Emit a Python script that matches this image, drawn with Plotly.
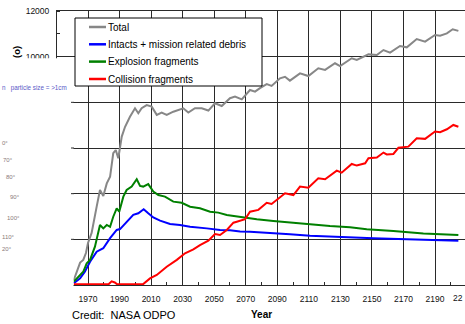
import plotly.graph_objects as go

# ---------------- data ----------------
series_names = ["Total", "Intacts + mission related debris",
                "Explosion fragments", "Collision fragments"]

years_total = [1961, 1965, 1967, 1968.7, 1970, 1972.3, 1975.5, 1977.6, 1979.7, 1981.9,
               1984, 1986, 1987.6, 1989.2, 1991.4, 1993.5, 1996.6, 1999.8, 2001.9, 2004,
               2007.2, 2010.4, 2013.6, 2016.7, 2019.9, 2024.1, 2030.4, 2033.6, 2037.8,
               2042.1, 2046.3, 2050.5, 2054.8, 2060, 2063.2, 2067.5, 2072.7, 2075.9, 2079,
               2083.3, 2086.4, 2091.7, 2094.9, 2098, 2104.4, 2109.7, 2116, 2120.3, 2126.6,
               2129.8, 2137.2, 2140.4, 2147.8, 2153.1, 2157.3, 2161.5, 2167.8, 2172.1,
               2178.4, 2183.7, 2190, 2193.2, 2197.5, 2201.2, 2204.8]
total = [220, 980, 1100, 1400, 1840, 2280, 3430, 4160, 3900, 4450,
         4740, 5770, 5910, 5550, 6500, 6930, 7370, 7740, 7520, 7740,
         7880, 7810, 7450, 7550, 7450, 7590, 7740, 7550, 7740,
         7740, 7640, 7960, 7840, 8180, 8250, 8130, 8540, 8470, 8620,
         8800, 8720, 9050, 9120, 8950, 9270, 9150, 9490, 9420, 9710,
         9590, 9930, 9860, 10100, 10070, 10290, 10180, 10470, 10410,
         10770, 10660, 10950, 10920, 11020, 11200, 11130]

years_intacts = [1961, 1965, 1968, 1971.3, 1975.5, 1979.7, 1984, 1988.2, 1990.3, 1994.5,
                 1998.7, 2001.9, 2005.3, 2008.2, 2011.4, 2015.7, 2022, 2028.3, 2034.7,
                 2045.3, 2053.7, 2060, 2066.4, 2072.7, 2085.4, 2098, 2110.8, 2123.4,
                 2136.1, 2150.9, 2172.1, 2193.2, 2204.8]
intacts = [75, 290, 580, 1020, 1460, 1610, 2050, 2410, 2450, 2770,
           3070, 3140, 3320, 3140, 2960, 2820, 2670, 2630, 2550,
           2480, 2410, 2400, 2340, 2330, 2260, 2220, 2160, 2120,
           2080, 2050, 2000, 1960, 1940]

years_explosion = [1961, 1963.9, 1967, 1969.2, 1971.3, 1974.4, 1977.6, 1979.7, 1981.9, 1984,
                   1986, 1988.2, 1989.8, 1992.4, 1994.5, 1997.7, 2000.9, 2003, 2005, 2008.2,
                   2011.4, 2014.6, 2018.8, 2024.1, 2029.4, 2034.7, 2041, 2047.4, 2052.6,
                   2058, 2066.4, 2077, 2087.5, 2098, 2110.8, 2123.4, 2136.1, 2146.7,
                   2163.6, 2182.6, 2204.8]
explosion = [150, 360, 580, 950, 1100, 1680, 2630, 2480, 2630, 2550,
             2990, 3360, 3210, 3870, 4160, 4310, 4630, 4340, 4310, 4420,
             4090, 3940, 3870, 3650, 3600, 3430, 3360, 3210, 3170,
             3070, 2980, 2880, 2800, 2730, 2660, 2580, 2530, 2440,
             2370, 2260, 2190]

years_collision = [1961, 1983, 1985, 1987, 1988.5, 2005, 2009.3, 2013.6, 2019.9, 2026.3,
                   2031.5, 2036.8, 2041, 2046.3, 2050.5, 2053.7, 2058, 2062.2, 2064.3,
                   2069.6, 2072.7, 2078, 2083.3, 2086.4, 2094.9, 2100.2, 2104.4, 2109.7,
                   2116, 2120.3, 2127.7, 2130.8, 2137.2, 2140.4, 2145.7, 2147.8, 2153.1,
                   2157.3, 2159.4, 2163.6, 2166.8, 2173.1, 2178.4, 2183.7, 2190, 2193.2,
                   2197.5, 2201.6, 2204.8]
collision = [30, 30, 160, 110, 30, 40, 290, 440, 800, 1100,
             1390, 1560, 1750, 1940, 2230, 2190, 2410, 2730, 2770,
             2880, 3210, 3290, 3600, 3550, 4020, 3940, 4310, 4260,
             4670, 4630, 5010, 4920, 5300, 5230, 5330, 5550, 5580,
             5800, 5720, 5740, 6010, 6060, 6430, 6400, 6720, 6690,
             6820, 7010, 6930]

x_tickvals = list(range(1970, 2200, 20))
cut_tick_label = "22"          # visible part of the 2210 label at the right edge
y_tickvals = [0, 2000, 4000, 6000, 8000, 10000, 12000]
y_ticktext = ["", "", "", "", "", "10000", "12000"]

credit_text = "Credit:\u00a0 NASA ODPO"
x_title = "Year"
y_title_fragment = "(o)"
side_note = "n\u00a0\u00a0 particle size = >1cm"
polar_labels = ["0°", "70°", "80°", "90°", "100°", "110°", "20°"]

# ---------------- layout helpers ----------------
W, H = 465, 324
L, R, T, B = 57, 0, 11, 39
PW, PH = W - L - R, H - T - B
X_RANGE = [1950.35, 2209.0]

def px(x):
    return (x - L) / PW

def py(y):
    return (H - B - y) / PH

colors = ["#878787", "#0000ff", "#008000", "#ff0000"]
FONT = "Liberation Sans, Arial, sans-serif"

fig = go.Figure()
for name, xs, ys, c in zip(series_names,
                           [years_total, years_intacts, years_explosion, years_collision],
                           [total, intacts, explosion, collision], colors):
    fig.add_trace(go.Scatter(x=xs, y=ys, mode="lines", name=name,
                             line=dict(color=c, width=2), showlegend=False))

grid = "#2a2a2a"
fig.update_layout(
    width=W, height=H,
    margin=dict(l=L, r=R, t=T, b=B, pad=0),
    paper_bgcolor="white", plot_bgcolor="white",
    font=dict(family=FONT, color="black", size=9),
    showlegend=False,
    xaxis=dict(range=X_RANGE, tickmode="array", tickvals=x_tickvals,
               ticks="", showgrid=True, gridcolor=grid, gridwidth=1,
               showline=True, linecolor=grid, linewidth=1, mirror=True,
               zeroline=False, layer="below traces",
               tickfont=dict(size=8.5, family=FONT, color="#111"),
               ticklabelstandoff=6,
               minor=dict(tickmode="linear", tick0=1950, dtick=10, ticks="inside",
                          ticklen=3, tickcolor=grid, showgrid=False)),
    yaxis=dict(range=[0, 12000], tickmode="array", tickvals=y_tickvals,
               ticktext=y_ticktext, ticks="", showgrid=True, gridcolor=grid,
               gridwidth=1, showline=True, linecolor=grid, linewidth=1,
               zeroline=False, layer="below traces",
               tickfont=dict(size=8.5, family=FONT, color="#111"),
               ticklabelstandoff=5,
               minor=dict(tickmode="linear", tick0=0, dtick=1000, ticks="inside",
                          ticklen=3, tickcolor=grid, showgrid=False)),
)

shapes = []
# white overlay hiding lower-left part of the frame
shapes.append(dict(type="rect", xref="paper", yref="paper",
                   x0=px(-5), x1=px(73.5), y0=py(290), y1=py(58.2),
                   fillcolor="white", line=dict(width=0), layer="above"))
# small outside ticks on the visible left edge
for v in [2000, 4000, 6000, 8000]:
    shapes.append(dict(type="line", xref="paper", yref="y",
                       x0=px(71), x1=px(74), y0=v, y1=v,
                       line=dict(color=grid, width=1), layer="above"))
# legend box
shapes.append(dict(type="rect", xref="paper", yref="paper",
                   x0=px(75), x1=px(262), y0=py(86), y1=py(18),
                   fillcolor="white", line=dict(color="black", width=1), layer="above"))
legend_y = [27, 44.3, 61.6, 79]
annotations = []
for name, c, yy in zip(series_names, colors, legend_y):
    shapes.append(dict(type="line", xref="paper", yref="paper",
                       x0=px(89), x1=px(106), y0=py(yy), y1=py(yy),
                       line=dict(color=c, width=2.5), layer="above"))
    annotations.append(dict(text=name, xref="paper", yref="paper",
                            x=px(105.5), y=py(yy), xanchor="left", yanchor="middle",
                            showarrow=False, font=dict(size=10, family=FONT, color="black")))

annotations.append(dict(text=credit_text, xref="paper", yref="paper",
                        x=px(69.5), y=py(315), xanchor="left", yanchor="middle",
                        showarrow=False, font=dict(size=11, family=FONT, color="black")))
annotations.append(dict(text="<b>" + x_title + "</b>", xref="paper", yref="paper",
                        x=px(261.5), y=py(314.5), xanchor="center", yanchor="middle",
                        showarrow=False, font=dict(size=10, family=FONT, color="black")))
annotations.append(dict(text=cut_tick_label, xref="paper", yref="paper",
                        x=px(465), y=py(298), xanchor="right", yanchor="middle",
                        showarrow=False, font=dict(size=8.5, family=FONT, color="#111")))
annotations.append(dict(text="<b>" + y_title_fragment + "</b>", xref="paper", yref="paper",
                        x=px(17), y=py(52), xanchor="center", yanchor="middle",
                        textangle=-90, showarrow=False,
                        font=dict(size=9.5, family=FONT, color="black")))
annotations.append(dict(text=side_note, xref="paper", yref="paper",
                        x=px(68.5), y=py(88), xanchor="right", yanchor="middle",
                        showarrow=False, font=dict(size=6.3, family=FONT, color="#5a5ac8")))
polar_pos = [(0, 143, "left"), (8, 160, "center"), (11, 177, "center"),
             (15, 197, "center"), (13, 218, "center"), (8, 237, "center"),
             (0, 249, "left")]
for lab, (xx, yy, anc) in zip(polar_labels, polar_pos):
    annotations.append(dict(text=lab, xref="paper", yref="paper",
                            x=px(xx), y=py(yy), xanchor=anc, yanchor="middle",
                            showarrow=False,
                            font=dict(size=6, family=FONT, color="#8a7b7b")))

fig.update_layout(shapes=shapes, annotations=annotations)
fig.write_html("out.html")
